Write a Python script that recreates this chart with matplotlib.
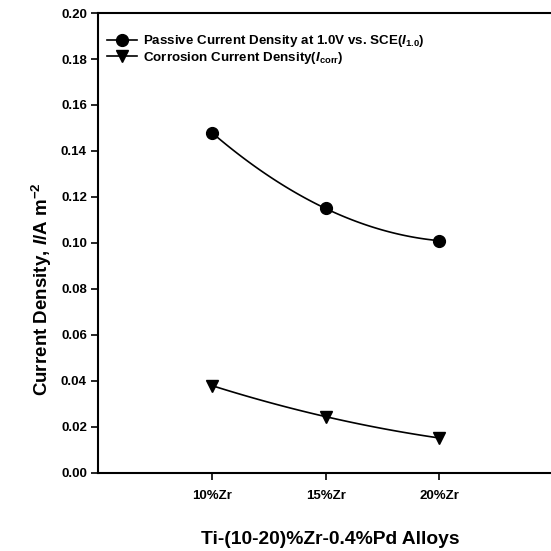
import numpy as np
import matplotlib
matplotlib.use("Agg")
import matplotlib.pyplot as plt

# data
alloys = ["10%Zr", "15%Zr", "20%Zr"]
positions = [1, 2, 3]
passive_density = [0.148, 0.115, 0.101]
corrosion_density = [0.038, 0.0245, 0.0152]

plt.rcParams['font.family'] = ['Liberation Sans', 'DejaVu Sans']
plt.rcParams['font.weight'] = 'bold'
plt.rcParams['mathtext.fontset'] = 'custom'
plt.rcParams['mathtext.rm'] = 'Liberation Sans:bold'
plt.rcParams['mathtext.it'] = 'Liberation Sans:italic:bold'
plt.rcParams['mathtext.bf'] = 'Liberation Sans:bold'

fig = plt.figure(figsize=(5.51, 5.51), dpi=100)
ax = fig.add_axes([0.178, 0.1416, 0.826, 0.8348])


def smooth(xs, ys):
    # quadratic through the three points, like the original smoothed line
    c = np.polyfit(xs, ys, 2)
    xx = np.linspace(xs[0], xs[-1], 100)
    return xx, np.polyval(c, xx)


xx, yy = smooth(positions, passive_density)
ax.plot(xx, yy, color='black', lw=1.2)
ax.plot(positions, passive_density, 'o', color='black', ms=8.5, ls='none')
xx, yy = smooth(positions, corrosion_density)
ax.plot(xx, yy, color='black', lw=1.2)
ax.plot(positions, corrosion_density, 'v', color='black', ms=8, ls='none')

# legend proxies (line + marker)
h1, = ax.plot([], [], '-o', color='black', ms=8.5, lw=1.2)
h2, = ax.plot([], [], '-v', color='black', ms=8, lw=1.2)
ax.legend([h1, h2],
          [r"Passive Current Density at 1.0V vs. SCE($I_{\mathbf{1.0}}$)",
           r"Corrosion Current Density($I_{\mathbf{corr}}$)"],
          loc='upper left', bbox_to_anchor=(0.0, 0.976), frameon=False,
          fontsize=9.6, handlelength=2.2, handletextpad=0.5, labelspacing=0.02,
          borderaxespad=0.3)

ax.set_xlim(0, 4)
ax.set_ylim(0, 0.20)
ax.set_xticks(positions)
ax.set_xticklabels(alloys)
ax.set_yticks(np.arange(0, 0.201, 0.02))
ax.yaxis.set_major_formatter(matplotlib.ticker.FormatStrFormatter('%.2f'))
ax.tick_params(direction='out', length=5, width=1.2, labelsize=9.5, pad=3)
ax.tick_params(axis='x', labelsize=9.5, pad=7)
for s in ax.spines.values():
    s.set_linewidth(1.5)

fig.text(0.0762, 0.476, r"Current Density, $I$/A m$^{\mathbf{-2}}$",
         rotation=90, ha='center', va='center', fontsize=13.5, fontweight='bold')
fig.text(0.6, 0.02, "Ti-(10-20)%Zr-0.4%Pd Alloys",
         ha='center', va='center', fontsize=13.9, fontweight='bold')

fig.savefig("out.png", dpi=100)
